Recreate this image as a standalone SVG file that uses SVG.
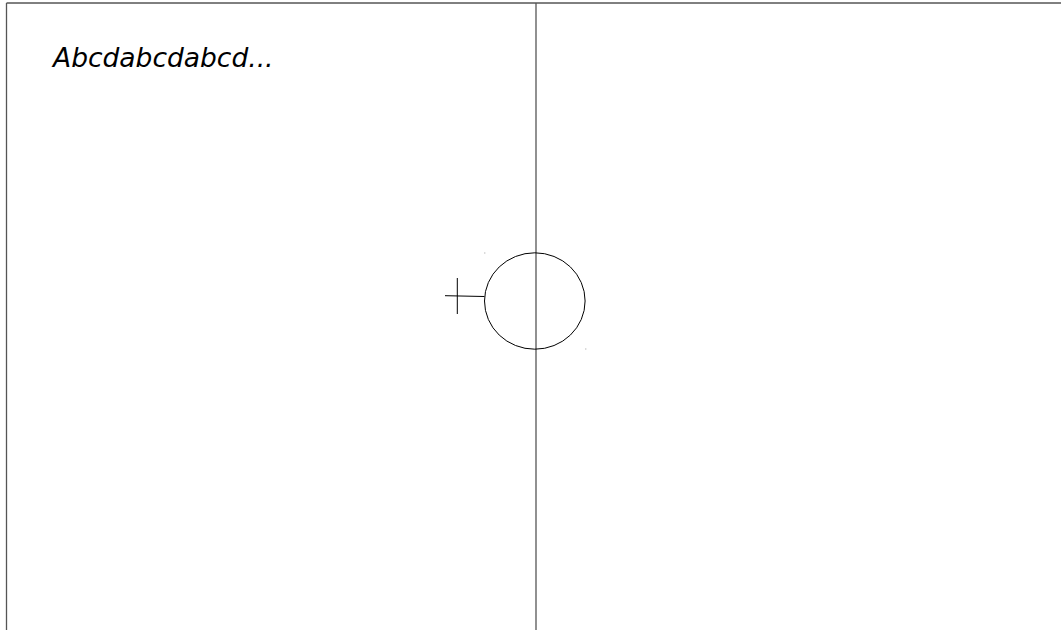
<svg xmlns="http://www.w3.org/2000/svg" width="1061" height="630" viewBox="0 0 1061 630">
<style>
.ln{stroke:#000;stroke-width:1;fill:none}
.gr{stroke:#555;stroke-width:1.3;fill:none}
.t{font-family:"DejaVu Sans",sans-serif;font-style:italic;font-size:26.5px;fill:#000}
</style>
<rect width="1061" height="630" fill="#fff"/>
<g id="frame">
<line class="ln" x1="6.5" y1="3" x2="1061" y2="3"/>
<line class="gr" x1="6.5" y1="3" x2="6.5" y2="630"/>
</g>
<g id="lifeline">
<line class="gr" x1="536" y1="3" x2="536" y2="630"/>
</g>
<g id="title"><text class="t" x="53" y="67">Abcdabcdabcd...</text></g>
<g id="boundary">
<ellipse class="ln" cx="534.8" cy="301" rx="50.3" ry="48.2"/>
<line class="ln" x1="445" y1="295.7" x2="484.5" y2="296.5"/>
<line class="ln" x1="457.3" y1="278" x2="457.3" y2="314"/>
<rect x="484.3" y="252.5" width="1" height="1" fill="#999"/>
<rect x="585.3" y="348.5" width="1" height="1" fill="#999"/>
</g>
</svg>
